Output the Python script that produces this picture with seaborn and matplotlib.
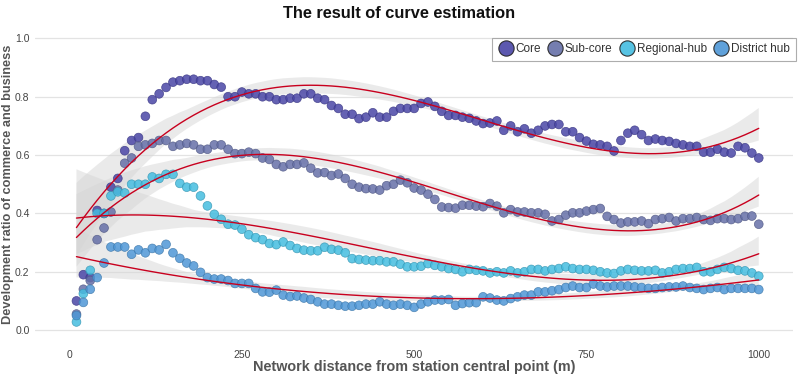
import numpy as np
import pandas as pd
import seaborn as sns
import matplotlib.pyplot as plt
from matplotlib.lines import Line2D

# === Datos ===
distance = list(range(10, 1001, 10))

core = [
    0.10, 0.19, 0.18, 0.41, 0.40, 0.49, 0.52, 0.615, 0.65, 0.66,
    0.733, 0.79, 0.81, 0.832, 0.85, 0.855, 0.86, 0.86, 0.855, 0.855,
    0.842, 0.833, 0.80, 0.80, 0.816, 0.81, 0.81, 0.80, 0.80, 0.79,
    0.79, 0.795, 0.795, 0.81, 0.81, 0.795, 0.79, 0.77, 0.76, 0.74,
    0.74, 0.725, 0.73, 0.745, 0.73, 0.73, 0.75, 0.76, 0.76, 0.76,
    0.777, 0.782, 0.767, 0.75, 0.736, 0.736, 0.73, 0.726, 0.717, 0.708,
    0.71, 0.717, 0.685, 0.70, 0.68, 0.69, 0.675, 0.685, 0.70, 0.705,
    0.705, 0.68, 0.68, 0.66, 0.648, 0.637, 0.635, 0.63, 0.614, 0.65,
    0.675, 0.685, 0.67, 0.65, 0.655, 0.65, 0.647, 0.64, 0.635, 0.63,
    0.63, 0.61, 0.61, 0.62, 0.61, 0.607, 0.63, 0.625, 0.607, 0.59,
]
sub_core = [
    0.055, 0.14, 0.17, 0.31, 0.35, 0.405, 0.48, 0.572, 0.59, 0.63,
    0.635, 0.64, 0.65, 0.65, 0.63, 0.635, 0.64, 0.635, 0.62, 0.62,
    0.635, 0.635, 0.62, 0.605, 0.605, 0.61, 0.605, 0.59, 0.585, 0.568,
    0.56, 0.568, 0.568, 0.573, 0.555, 0.539, 0.54, 0.53, 0.535, 0.52,
    0.50, 0.49, 0.485, 0.484, 0.48, 0.495, 0.50, 0.514, 0.505, 0.487,
    0.48, 0.466, 0.448, 0.422, 0.42, 0.418, 0.428, 0.428, 0.425, 0.423,
    0.434, 0.425, 0.402, 0.413, 0.405, 0.405, 0.402, 0.402, 0.397, 0.374,
    0.379, 0.394, 0.402, 0.402, 0.408, 0.413, 0.417, 0.39, 0.379, 0.367,
    0.371, 0.371, 0.374, 0.365, 0.379, 0.382, 0.386, 0.374, 0.382, 0.382,
    0.386, 0.379, 0.376, 0.382, 0.382, 0.379, 0.382, 0.39, 0.391, 0.363,
]
regional_hub = [
    0.028, 0.125, 0.205, 0.40, 0.40, 0.46, 0.474, 0.47, 0.50, 0.50,
    0.50, 0.525, 0.52, 0.534, 0.534, 0.503, 0.49, 0.49, 0.46, 0.426,
    0.397, 0.38, 0.363, 0.36, 0.346, 0.327, 0.317, 0.31, 0.297, 0.293,
    0.302, 0.29, 0.28, 0.274, 0.272, 0.272, 0.284, 0.277, 0.274, 0.265,
    0.245, 0.242, 0.24, 0.238, 0.238, 0.234, 0.234, 0.226, 0.217, 0.217,
    0.219, 0.228, 0.222, 0.217, 0.211, 0.208, 0.20, 0.208, 0.205, 0.203,
    0.196, 0.20, 0.196, 0.203, 0.196, 0.20, 0.208, 0.208, 0.203, 0.208,
    0.211, 0.217, 0.211, 0.208, 0.208, 0.205, 0.20, 0.196, 0.194, 0.203,
    0.208, 0.205, 0.203, 0.203, 0.205, 0.196, 0.20, 0.208, 0.211, 0.211,
    0.215, 0.20, 0.20, 0.208, 0.215, 0.211, 0.205, 0.203, 0.196, 0.185,
]
district_hub = [
    0.05, 0.095, 0.14, 0.18, 0.23, 0.285, 0.285, 0.285, 0.26, 0.275,
    0.265, 0.28, 0.275, 0.294, 0.265, 0.246, 0.23, 0.22, 0.198, 0.18,
    0.175, 0.175, 0.17, 0.16, 0.16, 0.16, 0.143, 0.131, 0.13, 0.137,
    0.12, 0.115, 0.117, 0.11, 0.105, 0.097, 0.089, 0.089, 0.085, 0.082,
    0.082, 0.085, 0.089, 0.089, 0.097, 0.089, 0.085, 0.089, 0.085, 0.078,
    0.089, 0.097, 0.103, 0.103, 0.105, 0.085, 0.091, 0.094, 0.094, 0.114,
    0.11, 0.103, 0.10, 0.108, 0.114, 0.12, 0.12, 0.131, 0.131, 0.135,
    0.139, 0.146, 0.151, 0.146, 0.146, 0.158, 0.151, 0.148, 0.151, 0.151,
    0.151, 0.148, 0.146, 0.143, 0.143, 0.146, 0.148, 0.148, 0.151, 0.146,
    0.143, 0.139, 0.143, 0.146, 0.139, 0.143, 0.143, 0.143, 0.143, 0.139,
]

station_types = ["Core", "Sub-core", "Regional-hub", "District hub"]
colors = ["#4a46a6", "#6670a8", "#45bde0", "#4f97d6"]
x_ticks = [0, 250, 500, 750, 1000]
y_ticks = [0.0, 0.2, 0.4, 0.6, 0.8, 1.0]

df = pd.DataFrame({
    "distance": distance * 4,
    "ratio": core + sub_core + regional_hub + district_hub,
    "type": [t for t in station_types for _ in distance],
})

# === Figura ===
sns.set_theme(style="white")
plt.rcParams["font.family"] = ["Liberation Sans", "DejaVu Sans"]

fig, ax = plt.subplots(figsize=(7.98, 3.77), dpi=100)
fig.subplots_adjust(left=0.044, right=0.994, bottom=0.095, top=0.926)

# curvas cúbicas con banda de confianza
for t in station_types:
    n_before = len(ax.collections)
    sns.regplot(data=df[df["type"] == t], x="distance", y="ratio", order=3,
                scatter=False, ci=95, seed=3, ax=ax,
                line_kws={"color": "#c8001e", "lw": 1.0, "zorder": 4})
    for coll in ax.collections[n_before:]:
        coll.set_facecolor("#d6d6d6")
        coll.set_edgecolor("none")
        coll.set_alpha(0.5)
        coll.set_zorder(1)

# puntos
sns.scatterplot(data=df, x="distance", y="ratio", hue="type",
                hue_order=station_types, palette=colors, s=40, alpha=0.85,
                linewidth=0.5, legend=False, ax=ax, zorder=3)
pts = ax.collections[-1]
fc = pts.get_facecolors()
ec = fc.copy()
ec[:, :3] = ec[:, :3] * 0.8
pts.set_edgecolors(ec)

ax.set_xlim(-50, 1050)
ax.set_ylim(-0.038, 1.036)
ax.set_xticks(x_ticks)
ax.set_yticks(y_ticks)
ax.set_yticklabels([f"{v:.1f}" for v in y_ticks])
ax.yaxis.grid(True, color="#e3e3e3", lw=0.9)
ax.xaxis.grid(False)
sns.despine(ax=ax, left=True, bottom=True)
ax.tick_params(axis="both", length=3, width=0.6, color="#555555",
               labelsize=7.5, labelcolor="#444444", pad=1)
ax.tick_params(axis="x", pad=3)

ax.set_xlabel("Network distance from station central point (m)",
              fontsize=10.4, fontweight="bold", color="#555555", labelpad=0)
ax.set_ylabel("Development ratio of commerce and business",
              fontsize=9.2, fontweight="bold", color="#555555")
ax.yaxis.set_label_coords(-0.028, 0.5)
fig.text(0.5, 0.965, "The result of curve estimation", ha="center", va="center",
         fontsize=11.8, fontweight="bold", color="#111111")

handles = [Line2D([], [], ls="none", marker="o", markersize=11,
                  markerfacecolor=c, markeredgecolor="#222222",
                  markeredgewidth=0.8, alpha=0.9)
           for c in colors]
leg = ax.legend(handles, station_types, ncol=4, loc="upper right",
                bbox_to_anchor=(1.011, 0.988), frameon=True, fancybox=False,
                fontsize=8.5, handletextpad=0.15, columnspacing=0.6,
                borderpad=0.5, handlelength=1.3, labelcolor="#333333")
leg.get_frame().set_edgecolor("#999999")
leg.get_frame().set_linewidth(0.8)

plt.savefig("out.png", dpi=100)
plt.close()
